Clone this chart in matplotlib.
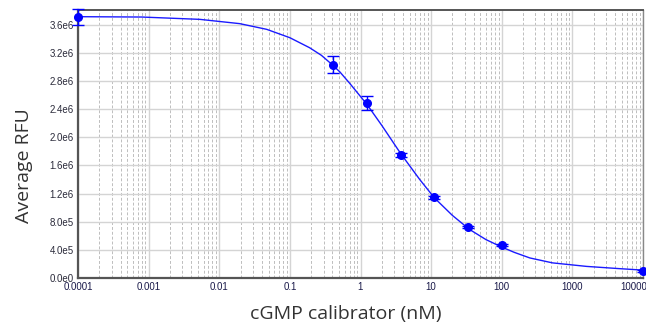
import numpy as np
import matplotlib
matplotlib.use("Agg")
import matplotlib.pyplot as plt
import matplotlib.transforms as mtransforms
from matplotlib.ticker import LogLocator, NullFormatter

# measured calibrator points
conc = [0.0001, 0.41, 1.23, 3.7, 11.1, 33.3, 100, 10000]
rfu = [3.71e6, 3.03e6, 2.49e6, 1.75e6, 1.15e6, 0.726e6, 0.47e6, 0.10e6]
rfu_err = [0.11e6, 0.12e6, 0.10e6, 0.03e6, 0.02e6, 0.015e6, 0.015e6, 0.01e6]

# fitted curve
curve_x = [0.0001, 0.0008, 0.0053, 0.0195, 0.047, 0.1, 0.19, 0.28, 0.39, 0.51, 0.7,
           1.23, 2.0, 3.7, 6.9, 11.1, 20, 35, 60, 100, 150, 250, 523, 1585, 4634, 10000]
curve_y = [3.715e6, 3.71e6, 3.677e6, 3.616e6, 3.535e6, 3.416e6, 3.274e6, 3.165e6, 3.04e6,
           2.93e6, 2.77e6, 2.47e6, 2.17e6, 1.77e6, 1.40e6, 1.14e6, 0.89e6, 0.69e6, 0.545e6,
           0.44e6, 0.365e6, 0.285e6, 0.215e6, 0.165e6, 0.133e6, 0.112e6]

yticks = [0, 4e5, 8e5, 1.2e6, 1.6e6, 2.0e6, 2.4e6, 2.8e6, 3.2e6, 3.6e6]
ytick_labels = ["0.0e0", "4.0e5", "8.0e5", "1.2e6", "1.6e6", "2.0e6", "2.4e6", "2.8e6", "3.2e6", "3.6e6"]
xticks = [0.0001, 0.001, 0.01, 0.1, 1, 10, 100, 1000, 10000]
xtick_labels = ["0.0001", "0.001", "0.01", "0.1", "1", "10", "100", "1000", "10000"]

fig = plt.figure(figsize=(6.46, 3.24), dpi=100)
ax = fig.add_axes([78/646, 46/324, 565/646, 268/324])

ax.set_xscale("log")
ax.set_xlim(1e-4, 1e4)
ax.set_ylim(0, 3.81e6)

ax.set_xticks(xticks)
ax.set_xticklabels(xtick_labels)
ax.xaxis.set_minor_locator(LogLocator(base=10, subs=np.arange(2, 10), numticks=100))
ax.xaxis.set_minor_formatter(NullFormatter())
ax.set_yticks(yticks)
ax.set_yticklabels(ytick_labels)

ax.grid(True, which="major", axis="x", color="#d4d4d4", linewidth=1.0, linestyle="-")
ax.grid(True, which="minor", axis="x", color="#bdbdbd", linewidth=0.7, linestyle=(0, (3, 2)))
ax.grid(True, which="major", axis="y", color="#d4d4d4", linewidth=1.0, linestyle="-")
ax.set_axisbelow(True)

ax.tick_params(which="both", length=0, pad=3)
xlabels = ax.get_xticklabels()
for lab in xlabels:
    lab.set_fontsize(7)
    lab.set_color("#1a1a4a")
    lab.set_family("Liberation Sans")
# last label is pushed left in the reference
xlabels[-1].set_transform(xlabels[-1].get_transform() +
                          mtransforms.ScaledTranslation(-9/100, 0, fig.dpi_scale_trans))
for lab in ax.get_yticklabels():
    lab.set_fontsize(7)
    lab.set_color("#2a2a3a")
    lab.set_family("Liberation Sans")

for side in ["left", "bottom"]:
    ax.spines[side].set_color("#555555")
    ax.spines[side].set_linewidth(1.6)
ax.spines["top"].set_color("#555555")
ax.spines["top"].set_linewidth(1.4)
ax.spines["right"].set_color("#888888")
ax.spines["right"].set_linewidth(1.0)

ax.plot(curve_x, curve_y, color="#1a1aff", linewidth=1.0, zorder=3)
ax.errorbar(conc, rfu, yerr=rfu_err, fmt="o", color="#0000ff", markersize=5.5,
            elinewidth=1.0, capsize=4, capthick=1.0, zorder=4, clip_on=False)

ax.set_xlabel("cGMP calibrator (nM)", fontsize=14, color="#333333", family="Open Sans")
ax.set_ylabel("Average RFU", fontsize=14, color="#333333", family="Open Sans")
ax.xaxis.set_label_coords(0.474, -0.1)
ax.yaxis.set_label_coords(-0.08, 0.42)

fig.savefig("out.png", dpi=100)
